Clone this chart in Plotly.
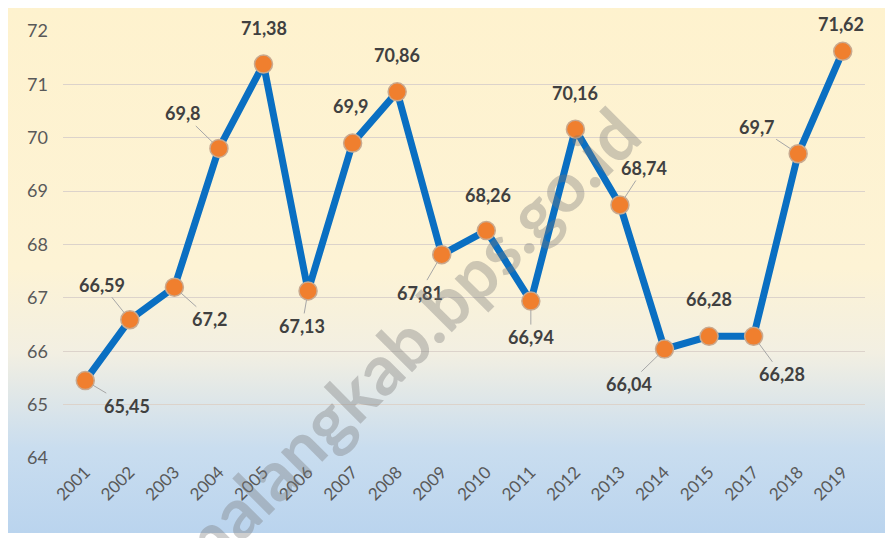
import base64
import plotly.graph_objects as go

years = ["2001", "2002", "2003", "2004", "2005", "2006", "2007", "2008", "2009",
         "2010", "2011", "2012", "2013", "2014", "2015", "2017", "2018", "2019"]
values = [65.45, 66.59, 67.2, 69.8, 71.38, 67.13, 69.9, 70.86, 67.81,
          68.26, 66.94, 70.16, 68.74, 66.04, 66.28, 66.28, 69.7, 71.62]
labels = ["65,45", "66,59", "67,2", "69,8", "71,38", "67,13", "69,9", "70,86", "67,81",
          "68,26", "66,94", "70,16", "68,74", "66,04", "66,28", "66,28", "69,7", "71,62"]
y_ticks = [64, 65, 66, 67, 68, 69, 70, 71, 72]

# label offsets (px) and whether a leader line is visible
label_ax = [42, -28, 36, -36, 0, -6, -2, 0, -22, 2, 0, 0, 24, -36, 0, 28, -41, -2]
label_ay = [25, -35, 32, -35, -36, 35, -37, -37, 38, -36, 36, -36, -37, 35, -37, 38, -27, -27]
leader = [1, 1, 1, 1, 0, 1, 0, 0, 1, 0, 1, 0, 1, 1, 0, 1, 1, 0]

OFF = 8                     # page body margin
W, H = 893 - OFF, 538 - OFF
L, R, T, B = 63 - OFF, 28, 31 - OFF, 80
pw, ph = W - L - R, H - T - B
PL, PT = L + OFF, T + OFF   # plot area origin on screen

svg = (
    '<svg xmlns="http://www.w3.org/2000/svg" width="100" height="100" preserveAspectRatio="none">'
    '<defs><linearGradient id="g" x1="0" y1="0" x2="0" y2="1">'
    '<stop offset="0" stop-color="#FEF2CE"/>'
    '<stop offset="0.5" stop-color="#FDF3D5"/>'
    '<stop offset="0.66" stop-color="#F2EFE2"/>'
    '<stop offset="0.84" stop-color="#C9DDEF"/>'
    '<stop offset="1" stop-color="#BAD4EE"/>'
    '</linearGradient></defs>'
    '<rect x="0" y="0" width="100" height="100" fill="url(#g)"/></svg>'
)
src = "data:image/svg+xml;base64," + base64.b64encode(svg.encode()).decode()

xi = list(range(len(years)))

fig = go.Figure()
fig.add_trace(go.Scatter(
    x=xi, y=values, mode="lines+markers",
    line=dict(color="#0A6FC2", width=7),
    marker=dict(size=18, color="#F07F2E", line=dict(color="#C9A98F", width=1.5)),
    hoverinfo="skip", showlegend=False,
))

annotations = []
for i, (v, lab) in enumerate(zip(values, labels)):
    annotations.append(dict(
        x=i, y=v, xref="x", yref="y", text=lab,
        showarrow=True, ax=label_ax[i], ay=label_ay[i],
        arrowhead=0, arrowwidth=1, standoff=9,
        arrowcolor="#A6A6A6" if leader[i] else "rgba(0,0,0,0)",
        font=dict(family="Lato", size=18, color="#404040", weight="bold"),
    ))

# watermark (centre given in screen pixels)
wx, wy = 403, 343
annotations.append(dict(
    x=(wx - PL) / pw, y=(PT + ph - wy) / ph, xref="paper", yref="paper",
    xanchor="center", yanchor="middle",
    text="malangkab.bps.go.id", showarrow=False, textangle=-45,
    font=dict(family="Lato", size=70, color="rgba(120,120,120,0.36)", weight="bold"),
))

# gradient panel: screen x 5..889, y 4..533
gx0, gx1, gy0, gy1 = 5, 889, 4, 533
fig.update_layout(
    width=W, height=H,
    margin=dict(l=L, r=R, t=T, b=B, autoexpand=False),
    paper_bgcolor="white", plot_bgcolor="rgba(0,0,0,0)",
    images=[dict(source=src, xref="paper", yref="paper",
                 x=(gx0 - PL) / pw, y=(PT + ph - gy0) / ph,
                 sizex=(gx1 - gx0) / pw, sizey=(gy1 - gy0) / ph,
                 sizing="stretch", layer="below", xanchor="left", yanchor="top")],
    annotations=annotations,
    xaxis=dict(range=[-0.5, len(years) - 0.5], tickvals=xi, ticktext=years,
               tickangle=-45, showgrid=False, zeroline=False,
               showline=False, ticks="", automargin=False,
               tickfont=dict(family="Lato", size=17, color="#595959")),
    yaxis=dict(range=[64, 72], tickvals=y_ticks, showgrid=True,
               gridcolor="#DCD3CB", gridwidth=1, zeroline=False, showline=False,
               ticks="", ticklabelstandoff=14, automargin=False,
               tickfont=dict(family="Lato", size=18, color="#595959")),
)

fig.write_html("out.html")
